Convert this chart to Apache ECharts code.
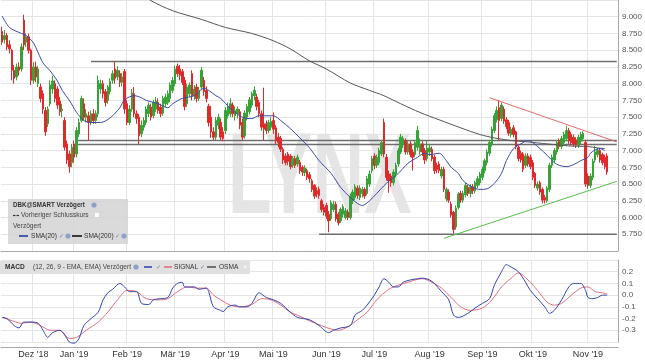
<!DOCTYPE html>
<html><head><meta charset="utf-8">
<script src="https://cdn.jsdelivr.net/npm/echarts@6/dist/echarts.min.js"></script>
<style>html,body{margin:0;padding:0;background:#fff}#c{width:645px;height:363px}</style>
</head><body><div id="c"></div>
<script>
// ---- categories / ticks ----
const slotCount = 257; // trading-day slots (253 candles + empty right margin)
const categories = Array.from({length: slotCount}, (_, i) => String(i));
const monthTickIdx = [13, 30, 52, 72, 93, 113, 135, 155, 178, 200, 221, 244];
const monthLabels = ["Dez '18", "Jan '19", "Feb '19", "Mär '19", "Apr '19", "Mai '19", "Jun '19", "Jul '19", "Aug '19", "Sep '19", "Okt '19", "Nov '19"];

// ---- OHLC (Nov 2018 .. Nov 2019) ----
const opens = [
8.78,8.66,8.72,8.58,8.50,8.20,8.10,8.25,8.22,8.95,8.62,8.70,8.50,
8.05,8.25,8.00,7.95,7.85,7.60,7.40,7.70,7.92,8.00,7.92,7.74,7.60,7.45,7.10,6.95,6.82,
7.10,6.95,7.25,7.45,7.70,7.50,7.52,7.42,7.55,7.45,7.55,7.92,8.00,7.88,7.75,7.88,8.05,8.22,8.10,8.15,8.02,8.18,
7.70,7.42,7.62,7.85,7.55,7.50,7.25,7.35,7.42,7.55,7.65,7.52,7.62,7.72,7.65,7.56,7.70,7.72,7.78,7.90,
8.00,8.26,8.22,8.18,8.05,7.70,7.85,8.15,7.82,7.95,7.78,7.95,8.05,7.90,7.66,7.50,7.28,7.20,7.38,7.42,7.28,
7.30,7.52,7.55,7.68,7.52,7.55,7.58,7.42,7.22,7.50,7.58,7.68,7.82,7.80,7.72,7.55,7.40,7.40,7.30,7.35,
7.45,7.34,7.20,7.18,7.02,6.92,6.95,6.92,6.78,6.88,6.80,6.82,6.75,6.67,6.70,6.64,6.55,6.48,6.40,6.42,6.25,6.15,
6.18,6.05,5.98,6.12,6.20,6.05,5.95,6.05,6.00,6.08,6.00,6.25,6.30,6.44,6.30,6.36,6.42,6.36,6.50,6.70,
6.92,6.78,6.82,6.95,7.42,6.90,6.65,6.62,6.52,6.65,6.80,6.98,7.10,7.15,6.98,7.10,6.98,6.94,7.05,6.98,7.10,7.00,6.88,
6.98,7.02,6.90,6.78,6.80,6.62,6.72,6.28,6.38,6.20,6.08,5.86,6.15,6.36,6.26,6.34,6.45,6.36,6.46,6.40,6.48,6.52,
6.60,6.70,6.82,6.96,7.10,7.30,7.46,7.64,7.48,7.62,7.46,7.42,7.24,7.34,7.28,7.05,6.96,6.95,6.78,6.92,6.90,
6.82,6.66,6.44,6.52,6.42,6.30,6.25,6.42,6.78,6.86,6.98,7.14,7.06,7.12,7.18,7.30,7.24,7.20,7.16,7.08,7.14,7.18,7.12,
6.62,6.48,6.60,6.86,6.94,7.00,6.94,6.90,6.92
];
const closes = [
8.62,8.72,8.55,8.52,8.20,8.08,8.25,8.20,8.55,8.58,8.70,8.50,8.05,
8.25,8.10,8.22,7.78,7.62,7.28,7.62,7.98,8.04,7.78,7.68,7.58,7.62,7.05,6.86,6.76,7.05,
6.90,7.30,7.42,7.78,7.50,7.55,7.42,7.55,7.45,7.55,8.05,8.00,7.85,7.72,7.95,8.03,8.15,8.08,8.20,8.02,8.10,7.62,
7.42,7.62,7.86,7.55,7.48,7.22,7.38,7.45,7.62,7.68,7.50,7.72,7.74,7.60,7.55,7.78,7.80,7.85,7.98,8.05,
8.22,8.15,8.12,8.02,7.66,7.95,7.98,7.82,7.92,7.78,7.90,8.20,7.88,7.78,7.42,7.28,7.20,7.45,7.50,7.20,7.18,
7.60,7.66,7.70,7.55,7.60,7.62,7.38,7.20,7.56,7.66,7.76,7.85,7.90,7.66,7.55,7.35,7.32,7.30,7.42,7.44,
7.32,7.15,7.12,7.02,6.86,6.82,6.84,6.76,6.88,6.78,6.90,6.70,6.68,6.74,6.60,6.58,6.42,6.32,6.35,6.33,6.12,6.08,
6.02,5.95,6.22,6.20,5.98,5.92,6.12,6.16,6.10,6.00,6.32,6.38,6.46,6.33,6.44,6.42,6.32,6.58,6.65,6.88,
6.78,6.90,7.00,7.12,6.95,6.60,6.55,6.52,6.68,6.78,7.00,7.20,7.18,6.98,7.10,6.94,6.90,7.12,7.30,7.10,6.98,6.86,7.04,
7.04,6.88,6.70,6.72,6.70,6.72,6.42,6.42,6.26,6.04,5.82,6.14,6.35,6.26,6.36,6.48,6.36,6.46,6.40,6.52,6.58,6.65,
6.72,6.85,6.98,7.12,7.32,7.52,7.60,7.45,7.68,7.44,7.36,7.26,7.32,7.24,7.06,6.88,6.86,6.72,6.92,6.80,6.76,
6.60,6.48,6.50,6.38,6.26,6.26,6.44,6.78,6.90,7.00,7.12,7.06,7.18,7.24,7.30,7.15,7.12,7.10,7.08,7.20,7.24,7.26,6.50,
6.48,6.62,6.84,6.98,7.00,6.86,6.82,6.76,6.68
];
const lows = [
8.58,8.60,8.50,8.45,8.05,8.00,8.05,8.12,8.18,8.50,8.55,8.45,7.98,
8.00,8.02,7.95,7.72,7.55,7.22,7.35,7.66,7.85,7.72,7.62,7.52,7.50,7.00,6.80,6.67,6.75,
6.82,6.90,7.20,7.42,7.45,7.42,7.15,7.38,7.40,7.40,7.50,7.85,7.78,7.66,7.70,7.84,8.00,8.00,8.05,7.95,7.96,7.55,
7.38,7.38,7.58,7.50,7.40,7.09,7.20,7.30,7.38,7.50,7.45,7.48,7.58,7.55,7.50,7.52,7.65,7.68,7.72,7.86,
7.96,8.10,8.05,7.98,7.60,7.65,7.80,7.75,7.76,7.72,7.74,7.90,7.82,7.72,7.36,7.19,7.15,7.16,7.32,7.15,7.14,
7.25,7.48,7.50,7.50,7.45,7.48,7.32,7.15,7.18,7.45,7.54,7.64,7.75,7.60,7.50,7.30,7.15,7.25,7.26,7.30,
7.25,7.10,7.05,6.98,6.80,6.78,6.78,6.72,6.74,6.74,6.76,6.65,6.62,6.62,6.56,6.52,6.38,6.28,6.30,6.28,6.08,6.03,
5.98,5.78,5.95,6.08,5.94,5.88,5.92,6.00,5.97,5.96,5.97,6.20,6.26,6.28,6.26,6.30,6.28,6.33,6.46,6.66,
6.72,6.74,6.78,6.92,6.90,6.55,6.37,6.46,6.48,6.60,6.76,6.95,7.04,6.94,6.94,6.90,6.70,6.90,7.00,6.94,6.92,6.80,6.84,
6.92,6.84,6.65,6.66,6.66,6.58,6.38,6.24,6.22,6.00,5.76,5.82,6.12,6.22,6.22,6.30,6.32,6.30,6.35,6.36,6.44,6.48,
6.56,6.66,6.78,6.92,7.06,7.26,7.42,7.15,7.44,7.40,7.32,7.22,7.20,7.20,7.02,6.84,6.82,6.68,6.74,6.76,6.72,
6.56,6.44,6.40,6.34,6.21,6.21,6.22,6.38,6.74,6.82,6.94,7.02,7.02,7.08,7.14,7.10,7.08,7.06,7.04,7.04,7.10,7.14,6.46,
6.43,6.44,6.56,6.82,6.90,6.82,6.78,6.72,6.64
];
const highs = [
8.85,8.80,8.76,8.65,8.52,8.28,8.30,8.32,8.60,9.03,8.75,8.75,8.52,
8.32,8.33,8.26,8.00,7.90,7.65,7.66,8.05,8.12,8.05,7.96,7.80,7.70,7.50,7.15,7.00,7.10,
7.15,7.35,7.48,7.82,7.78,7.62,7.58,7.60,7.62,7.60,8.12,8.06,8.05,7.92,7.98,8.08,8.20,8.33,8.26,8.20,8.16,8.22,
7.76,7.68,7.92,7.95,7.60,7.55,7.45,7.50,7.66,7.72,7.70,7.76,7.80,7.78,7.70,7.82,7.85,7.90,8.02,8.10,
8.27,8.30,8.28,8.22,8.10,8.00,8.02,8.20,7.98,8.00,7.95,8.25,8.10,7.96,7.70,7.67,7.35,7.50,7.55,7.48,7.35,
7.65,7.72,7.78,7.72,7.66,7.66,7.62,7.48,7.60,7.70,7.80,7.88,7.96,7.85,7.76,7.60,7.94,7.45,7.46,7.50,
7.57,7.38,7.26,7.22,7.05,6.96,6.98,6.95,6.92,6.92,6.94,6.86,6.78,6.78,6.73,6.68,6.58,6.50,6.45,6.46,6.28,6.20,
6.22,6.10,6.26,6.25,6.24,6.08,6.15,6.20,6.14,6.12,6.36,6.42,6.50,6.48,6.48,6.46,6.45,6.62,6.70,6.92,
6.96,6.94,7.04,7.16,7.48,6.95,6.70,6.66,6.72,6.82,7.04,7.25,7.22,7.18,7.14,7.14,7.02,7.16,7.37,7.18,7.14,7.04,7.15,
7.10,7.06,6.94,6.82,6.84,6.76,6.76,6.45,6.42,6.24,6.10,6.18,6.38,6.40,6.40,6.52,6.49,6.50,6.50,6.55,6.62,6.68,
6.76,6.88,7.02,7.16,7.36,7.56,7.66,7.75,7.72,7.66,7.50,7.46,7.36,7.38,7.30,7.08,7.00,6.98,6.96,6.96,6.94,
6.86,6.68,6.54,6.55,6.45,6.34,6.47,6.82,6.94,7.04,7.16,7.18,7.22,7.28,7.37,7.34,7.28,7.24,7.20,7.24,7.28,7.29,7.16,
6.66,6.66,6.88,7.07,7.04,7.04,6.97,6.94,6.96
];

// ---- indicators: [slot index, value] ----
const sma20 = [[0,9.01],[3,8.84],[8,8.75],[10,8.72],[13,8.61],[15,8.46],[17,8.31],[20,8.19],[23,8.04],[25,7.90],[28,7.75],[31,7.57],[34,7.45],[37,7.42],[41,7.42],[45,7.49],[49,7.64],[51,7.76],[55,7.82],[58,7.79],[60,7.75],[65,7.70],[69,7.64],[71,7.70],[75,7.78],[80,7.82],[84,7.93],[86,7.90],[89,7.82],[91,7.78],[95,7.63],[99,7.52],[102,7.48],[104,7.48],[107,7.52],[111,7.52],[113,7.52],[116,7.45],[120,7.33],[124,7.19],[128,7.04],[132,6.85],[137,6.66],[141,6.45],[145,6.30],[148,6.21],[150,6.18],[153,6.25],[156,6.36],[160,6.51],[165,6.66],[169,6.81],[173,6.90],[176,6.96],[178,6.94],[182,6.96],[185,6.85],[187,6.75],[190,6.66],[192,6.55],[196,6.45],[199,6.42],[202,6.43],[205,6.51],[208,6.66],[210,6.85],[213,7.03],[216,7.10],[219,7.15],[221,7.12],[224,7.03],[227,6.93],[230,6.82],[232,6.78],[235,6.76],[238,6.79],[241,6.85],[244,6.90],[245,6.96],[247,7.01],[249,7.03],[251,7.00]];
const sma200 = [[56,9.40],[62,9.24],[71,9.09],[83,8.96],[93,8.84],[104,8.75],[113,8.64],[120,8.52],[128,8.34],[135,8.22],[145,8.01],[153,7.90],[159,7.82],[166,7.70],[174,7.57],[182,7.46],[191,7.34],[199,7.24],[205,7.19],[212,7.15],[219,7.13],[227,7.10],[236,7.07],[244,7.06],[248,7.04],[251,7.03]];
const levelStarts = [37, 31, 31, 132];
const levelValues = [8.33, 7.15, 7.09, 5.75];
const resistanceLine = [[203,7.79],[256,7.13]];
const supportLine = [[184,5.69],[256,6.54]];

const macdLine = [[0,-0.19],[2,-0.20],[5,-0.26],[7,-0.28],[9,-0.23],[12,-0.23],[15,-0.24],[17,-0.30],[19,-0.36],[21,-0.32],[24,-0.30],[26,-0.34],[28,-0.40],[30,-0.41],[32,-0.37],[34,-0.26],[37,-0.20],[40,-0.145],[42,-0.04],[44,0.02],[46,0.05],[49,0.10],[51,0.07],[53,0.03],[56,0.03],[58,-0.07],[61,-0.08],[63,-0.04],[66,-0.03],[69,-0.02],[71,0.06],[73,0.10],[75,0.11],[76,0.07],[80,0.07],[82,0.05],[85,0.06],[86,0.03],[88,-0.10],[91,-0.13],[92,-0.14],[94,-0.10],[97,-0.085],[99,-0.10],[102,-0.10],[104,-0.07],[107,0.02],[110,-0.02],[113,-0.04],[116,-0.07],[120,-0.145],[123,-0.19],[128,-0.21],[132,-0.26],[136,-0.32],[138,-0.30],[141,-0.28],[145,-0.26],[147,-0.17],[150,-0.13],[152,-0.085],[155,0.0],[157,0.07],[159,0.14],[161,0.11],[163,0.07],[165,0.07],[167,0.11],[170,0.13],[173,0.14],[175,0.145],[178,0.13],[180,0.10],[183,0.03],[186,-0.04],[188,-0.17],[190,-0.19],[194,-0.155],[197,-0.11],[200,-0.07],[203,-0.03],[205,0.085],[208,0.20],[210,0.26],[212,0.24],[215,0.20],[218,0.11],[220,0.04],[223,-0.03],[226,-0.10],[228,-0.155],[230,-0.13],[233,-0.04],[236,0.07],[238,0.10],[241,0.10],[243,0.04],[244,-0.02],[246,-0.03],[248,-0.02],[250,0.0],[252,0.0]];
const signalLine = [[0,-0.19],[3,-0.21],[8,-0.24],[12,-0.23],[16,-0.26],[20,-0.30],[24,-0.30],[28,-0.37],[31,-0.36],[35,-0.30],[40,-0.23],[44,-0.145],[48,-0.04],[52,0.04],[56,0.03],[60,-0.03],[65,-0.04],[69,-0.03],[73,0.03],[77,0.07],[81,0.06],[85,0.06],[88,0.0],[91,-0.04],[95,-0.085],[99,-0.10],[104,-0.08],[108,-0.03],[112,-0.04],[116,-0.085],[120,-0.145],[124,-0.18],[128,-0.22],[133,-0.26],[137,-0.29],[140,-0.30],[144,-0.27],[148,-0.21],[152,-0.145],[156,-0.04],[161,0.05],[165,0.085],[169,0.11],[172,0.13],[175,0.14],[179,0.11],[183,0.06],[187,-0.02],[191,-0.10],[195,-0.13],[200,-0.11],[204,-0.04],[208,0.07],[212,0.145],[215,0.19],[219,0.13],[223,0.04],[227,-0.06],[230,-0.085],[233,-0.07],[237,0.0],[241,0.06],[244,0.07],[247,0.03],[250,0.02],[252,0.01]];

// ---- build chart ----
const FONT = '"Liberation Sans", Arial, sans-serif';
const monthSet = new Set(monthTickIdx);
const labelMap = {};
monthTickIdx.forEach((k, j) => labelMap[k] = monthLabels[j]);
const ohlc = opens.map((o, i) => [o, closes[i], lows[i], highs[i]]);
const lastSlot = slotCount - 1;

function lineSeries(data, color, width, axisIdx, extra) {
  return Object.assign({
    type: 'line', data: data, xAxisIndex: axisIdx, yAxisIndex: axisIdx,
    showSymbol: false, symbol: 'none', silent: true,
    lineStyle: {color: color, width: width}, z: 3
  }, extra || {});
}

const series = [];
levelValues.forEach((v, j) => {
  series.push(lineSeries([[levelStarts[j], v], [lastSlot, v]], '#6e6e6e', 1.5, 0, {z: 1}));
});
series.push({
  type: 'candlestick', data: ohlc, xAxisIndex: 0, yAxisIndex: 0,
  barWidth: 2, z: 2,
  itemStyle: {color: '#37a237', color0: '#dd2a2a', borderColor: '#37a237', borderColor0: '#dd2a2a', borderWidth: 1}
});
series.push(lineSeries(sma200, '#555555', 1, 0, {smooth: 0.3}));
series.push(lineSeries(sma20, '#3c4aa8', 1, 0, {smooth: 0.3}));
series.push(lineSeries(resistanceLine, '#e46a6a', 1, 0));
series.push(lineSeries(supportLine, '#58bf4a', 1, 0));
series.push(lineSeries(signalLine, '#e0707e', 1, 1, {smooth: 0.3, clip: false}));
series.push(lineSeries(macdLine, '#3444b0', 1, 1, {smooth: 0.3, clip: false}));

const gridCol = '#e4e4e4';
const axisCol = '#a8a8a8';
function xAx(gi, showLabels) {
  return {
    type: 'category', data: categories, gridIndex: gi, boundaryGap: true,
    offset: gi === 1 ? 5 : 0,
    axisLine: {show: true, onZero: false, lineStyle: {color: axisCol}},
    axisTick: {show: false},
    axisLabel: {
      show: showLabels, interval: (i) => monthSet.has(i),
      formatter: (val, i) => labelMap[i] || '',
      color: '#333', fontSize: 9, fontFamily: FONT, margin: 3
    },
    splitLine: {show: true, interval: (i) => monthSet.has(i), lineStyle: {color: gridCol, width: 1}}
  };
}

const SMALL = '7px ' + FONT;
const T = (x, y, text, style, sx) => ({
  type: 'text', x: x, y: y, z: 20, scaleX: sx || 0.94,
  style: Object.assign({text: text, font: SMALL, fill: '#333',
    textVerticalAlign: 'middle', verticalAlign: 'middle'}, style || {})
});
const L = (x1, y1, x2, y2, color, w) => ({
  type: 'line', z: 20, shape: {x1: x1, y1: y1, x2: x2, y2: y2},
  style: {stroke: color, lineWidth: w || 1.5}
});
const C = (cx, cy) => ({type: 'circle', z: 20, shape: {cx: cx, cy: cy, r: 2.6}, style: {fill: '#8ea1c8'}});
const CHECK = {fill: '#6a7fb0', font: '6px "DejaVu Sans"'};

const graphic = [
  // watermark
  {type: 'text', x: 228, y: 181, scaleX: 0.62, z: -1, silent: true,
   style: {text: 'LYNX', font: 'bold 115px ' + FONT, fill: '#e5e5e5', textVerticalAlign: 'middle', verticalAlign: 'middle'}},
  // price legend box
  {type: 'rect', z: 19, shape: {x: 8, y: 199, width: 120, height: 45}, style: {fill: 'rgba(212,212,212,0.85)'}},
  T(13, 205, 'DBK@SMART Verzögert', {font: 'bold ' + SMALL}, 0.89),
  C(94, 205),
  L(13, 215.5, 15.5, 215.5, '#333', 1.2), L(16.5, 215.5, 19, 215.5, '#333', 1.2),
  T(21, 215, 'Vorheriger Schlusskurs', {fill: '#444'}),
  {type: 'rect', z: 20, shape: {x: 95, y: 213, width: 4, height: 4}, style: {fill: '#ffffff'}},
  T(13, 226, 'Verzögert', {fill: '#444'}),
  L(19, 236, 28, 236, '#2b3aa0', 1.6),
  T(31, 236, 'SMA(20)'),
  T(59, 236, '✓', CHECK, 1),
  C(68, 236),
  L(72, 236, 82, 236, '#111', 1.6),
  T(84, 236, 'SMA(200)'),
  T(115, 236, '✓', CHECK, 1),
  C(124, 236),
  // MACD header
  {type: 'rect', z: 19, shape: {x: 0, y: 261, width: 250, height: 13}, style: {fill: '#e0e0e0'}},
  T(5, 267, 'MACD', {font: 'bold ' + SMALL}),
  T(33, 267, '(12, 26, 9 - EMA, EMA) Verzögert', {fill: '#444'}),
  C(136, 267),
  L(144, 267, 152, 267, '#3444b0', 1.6),
  T(156, 267, '✓', CHECK, 1),
  L(164, 267, 172, 267, '#e0707e', 1.6),
  T(174, 267, 'SIGNAL'),
  T(200, 267, '✓', CHECK, 1),
  L(207, 267, 216, 267, '#555', 1.6),
  T(219, 267, 'OSMA'),
  T(243, 267, '×', {fill: '#ffffff', font: '8px ' + FONT}, 1)
];

const chart = echarts.init(document.getElementById('c'), null, {renderer: 'canvas'});
chart.setOption({
  animation: false,
  backgroundColor: '#ffffff',
  grid: [
    {left: 1, right: 27, top: 0, height: 251},
    {left: 1, right: 27, top: 260, height: 82}
  ],
  xAxis: [xAx(0, false), xAx(1, true)],
  yAxis: [
    {type: 'value', gridIndex: 0, position: 'right', min: 5.5, max: 9.25, interval: 0.25,
     axisLine: {show: true, lineStyle: {color: axisCol}}, axisTick: {show: false},
     axisLabel: {showMinLabel: false, showMaxLabel: false, formatter: v => v.toFixed(3), color: '#555', fontSize: 8, fontFamily: FONT, margin: 4},
     splitLine: {lineStyle: {color: gridCol}}},
    {type: 'value', gridIndex: 1, position: 'right', min: -0.4, max: 0.3, interval: 0.1,
     axisLine: {show: true, lineStyle: {color: axisCol}}, axisTick: {show: false},
     axisLabel: {showMinLabel: false, showMaxLabel: false, formatter: v => (Math.abs(v) < 1e-9 ? '0.0' : v.toFixed(1)), color: '#555', fontSize: 8, fontFamily: FONT, margin: 4},
     splitLine: {lineStyle: {color: gridCol}}}
  ],
  series: series,
  graphic: graphic
});
</script>
</body></html>
